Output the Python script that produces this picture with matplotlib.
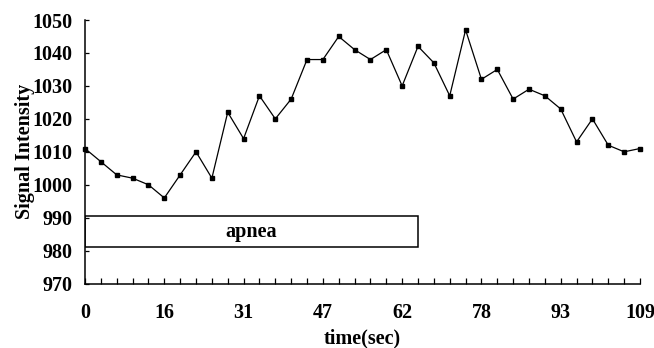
import matplotlib
matplotlib.use('Agg')
import matplotlib.pyplot as plt
from matplotlib.patches import Rectangle

# signal sampled once per frame (36 frames)
signal = [1011, 1007, 1003, 1002, 1000, 996, 1003, 1010, 1002, 1022,
          1014, 1027, 1020, 1026, 1038, 1038, 1045, 1041, 1038, 1041,
          1030, 1042, 1037, 1027, 1047, 1032, 1035, 1026, 1029, 1027,
          1023, 1013, 1020, 1012, 1010, 1011]
time_labels = ['0', '16', '31', '47', '62', '78', '93', '109']
y_ticks = [970, 980, 990, 1000, 1010, 1020, 1030, 1040, 1050]
apnea_frames = (0, 21)
apnea_range = (981, 990.6)

plt.rcParams['font.family'] = ['Liberation Serif', 'DejaVu Serif']
plt.rcParams['font.weight'] = 'bold'
plt.rcParams['font.size'] = 14.5

fig = plt.figure(figsize=(6.54, 3.48), dpi=100)
ax = fig.add_axes([0.130, 0.185, 0.8486, 0.7575])

frames = list(range(len(signal)))
ax.plot(frames, signal, color='black', lw=0.9, marker='s', ms=3.4,
        mfc='black', mec='black', clip_on=False, zorder=3)

ax.add_patch(Rectangle((apnea_frames[0], apnea_range[0]),
                       apnea_frames[1] - apnea_frames[0],
                       apnea_range[1] - apnea_range[0],
                       fill=False, ec='black', lw=1.1, zorder=2))
ax.text((apnea_frames[0] + apnea_frames[1]) / 2,
        (apnea_range[0] + apnea_range[1]) / 2, 'apnea',
        ha='center', va='center', fontweight='bold')

ax.set_xlim(0, len(signal) - 1)
ax.set_ylim(970, 1050)
ax.set_xticks(range(0, len(signal), 5))
ax.set_xticklabels(time_labels)
ax.set_xticks(frames, minor=True)
ax.set_yticks(y_ticks)

ax.tick_params(axis='x', which='both', direction='in', length=4, width=0.9, pad=14)
ax.tick_params(axis='y', direction='in', length=3, width=0.9, pad=9)

for s in ['top', 'right']:
    ax.spines[s].set_visible(False)
for s in ['left', 'bottom']:
    ax.spines[s].set_linewidth(1.1)

ax.set_xlabel('time(sec)', fontweight='bold', labelpad=4)
ax.set_ylabel('Signal Intensity', fontweight='bold', labelpad=-2)

fig.savefig('out.png', dpi=100)
